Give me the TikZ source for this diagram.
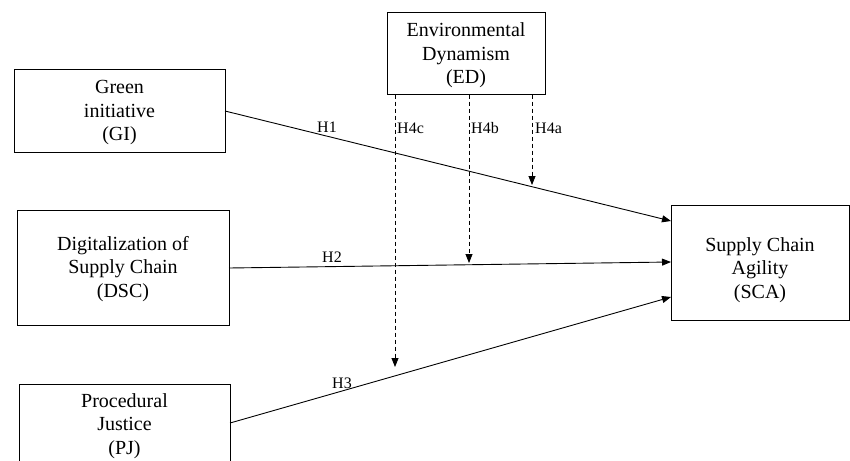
\documentclass[tikz,border=0pt]{standalone}
\usepackage{fontspec}
\setmainfont{Liberation Serif}
\usetikzlibrary{arrows.meta}
\tikzset{
  box/.style={draw=black, line width=1pt, rectangle, inner sep=0pt, align=center,
    font=\fontsize{20}{23.5}\selectfont},
  boxtext/.style={inner sep=0pt, align=center, font=\fontsize{20}{23.5}\selectfont},
  lbl/.style={inner sep=0pt, font=\fontsize{16}{18}\selectfont},
  path/.style={draw=black, line width=0.9pt, -{Triangle[length=9pt,width=7pt]}},
  dpath/.style={draw=black, line width=0.8pt, dash pattern=on 4pt off 3pt, -{Triangle[length=9pt,width=7pt]}}
}
\begin{document}
\begin{tikzpicture}[x=1pt,y=-1pt]
\clip (0,0) rectangle (850,460);
\fill[white] (0,0) rectangle (850,460);
% boxes
\node[box, minimum width=158pt, minimum height=81pt] (ed) at (466,53.5) {};
\node[boxtext] (edt) at (466,55.5) {Environmental\\Dynamism\\(ED)};
\node[box, minimum width=211pt, minimum height=83pt] (gi) at (119.5,110.5) {};
\node[boxtext] (git) at (119.5,113) {Green\\initiative\\(GI)};
\node[box, minimum width=212pt, minimum height=115pt] (dsc) at (123,267.5) {};
\node[boxtext] (dsct) at (123,269) {Digitalization of\\Supply Chain\\(DSC)};
\node[box, minimum width=211pt, minimum height=82pt] (pj) at (124.5,425) {};
\node[boxtext] (pjt) at (124.5,426) {Procedural\\Justice\\(PJ)};
\node[box, minimum width=178pt, minimum height=115pt] (sca) at (760,262.5) {};
\node[boxtext] (scat) at (760,270) {Supply Chain\\Agility\\(SCA)};
% coordinates on main paths
\coordinate (giout) at (225,111);
\coordinate (gitip) at (671,221);
\coordinate (dscout) at (229,268);
\coordinate (dsctip) at (671,262);
\coordinate (pjout) at (230,423);
\coordinate (pjtip) at (671,297);
\coordinate (a4) at (532,185);
\coordinate (b4) at (469,263);
\coordinate (c4) at (395,367);
% main arrows
\draw[path] (giout) -- (gitip);
\draw[path] (dscout) -- (dsctip);
\draw[path] (pjout) -- (pjtip);
% moderation arrows
\draw[dpath] (ed.south -| a4) -- (a4);
\draw[dpath] (ed.south -| b4) -- (b4);
\draw[dpath] (ed.south -| c4) -- (c4);
% labels
\node[lbl] (h1) at (327,127) {H1};
\node[lbl] (h2) at (332,257) {H2};
\node[lbl] (h3) at (342,383) {H3};
\node[lbl, anchor=west] (h4c) at (397,128) {H4c};
\node[lbl, anchor=west] (h4b) at (471,128) {H4b};
\node[lbl, anchor=west] (h4a) at (535,128) {H4a};
\end{tikzpicture}
\end{document}
